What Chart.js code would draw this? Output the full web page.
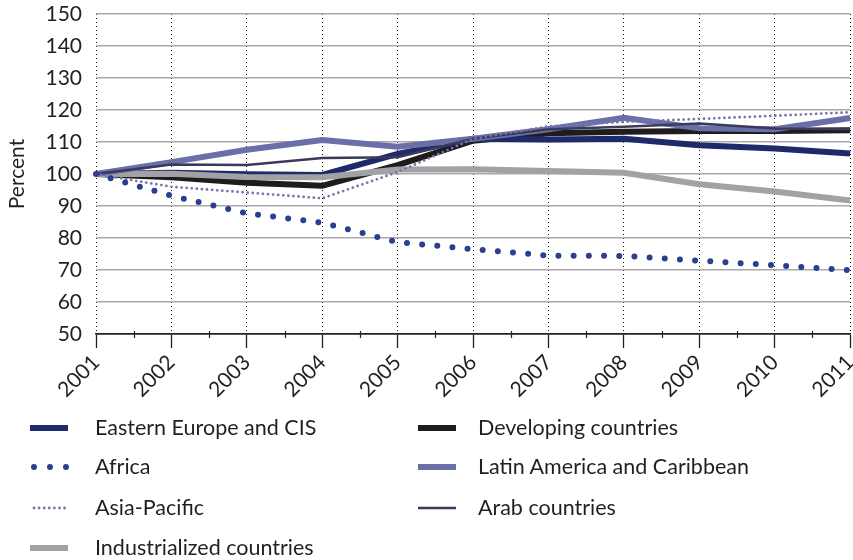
<!DOCTYPE html>
<html>
<head>
<meta charset="utf-8">
<script src="https://cdn.jsdelivr.net/npm/chart.js@4.4.0/dist/chart.umd.min.js"></script>
<style>
  html, body { margin: 0; padding: 0; background: #fff; overflow: hidden; width: 853px; height: 560px; }
  #wrap { position: absolute; left: 0; top: 0; width: 870px; height: 400px; }
  #legend { position: absolute; left: 0; top: 0; width: 853px; height: 560px; font-family: Lato, sans-serif; font-size: 21.5px; color: #231f20; pointer-events: none; }
  .sym { position: absolute; }
  .lbl { position: absolute; line-height: 26px; white-space: nowrap; }
</style>
</head>
<body>
<div id="wrap"><canvas id="chart"></canvas></div>
<div id="legend"></div>
<script>
// --- DATA ---
const years = ['2001', '2002', '2003', '2004', '2005', '2006', '2007', '2008', '2009', '2010', '2011'];
const eastEurope     = [100, 100.4, 99.9, 99.7, 106.3, 111.0, 110.8, 111.0, 109.0, 108.0, 106.4];
const africa         = [100, 93.2, 87.7, 84.8, 78.7, 76.5, 74.5, 74.4, 72.9, 71.5, 69.9];
const asiaPacific    = [100, 96.0, 94.2, 92.4, 100.6, 111.0, 114.9, 116.3, 117.2, 118.2, 119.3];
const industrialized = [100, 100.1, 99.1, 99.0, 101.4, 101.5, 100.9, 100.4, 96.8, 94.5, 91.7];
const developing     = [100, 99.0, 97.3, 96.3, 102.8, 110.4, 112.7, 113.2, 113.4, 113.4, 113.7];
const latinAmerica   = [100, 103.7, 107.6, 110.6, 108.5, 111.0, 114.0, 117.6, 114.3, 114.0, 117.5];
const arabCountries  = [100, 103.0, 102.8, 105.0, 105.2, 111.0, 114.0, 114.8, 115.8, 114.2, 114.0];
const yTicks = [50, 60, 70, 80, 90, 100, 110, 120, 130, 140, 150];

const FONT = 'Lato, sans-serif';
const TEXT = '#231f20';

// series styles; legend follows the reference's column layout
const series = [
  { label: 'Eastern Europe and CIS', data: eastEurope, color: '#1e2a6a', width: 6, dash: [], order: 6, col: 0, row: 0 },
  { label: 'Africa', data: africa, color: '#2b3e90', width: 6, dash: [0, 15.2], order: 1, col: 0, row: 1, legDash: [0, 16] },
  { label: 'Asia-Pacific', data: asiaPacific, color: '#7676a8', width: 2.8, dash: [0, 5.1], order: 2, col: 0, row: 2 },
  { label: 'Industrialized countries', data: industrialized, color: '#a2a2a6', width: 6, dash: [], order: 5, col: 0, row: 3 },
  { label: 'Developing countries', data: developing, color: '#201c1d', width: 6, dash: [], order: 7, col: 1, row: 0 },
  { label: 'Latin America and Caribbean', data: latinAmerica, color: '#6b6fa8', width: 6, dash: [], order: 4, col: 1, row: 1 },
  { label: 'Arab countries', data: arabCountries, color: '#3a3a5c', width: 2.5, dash: [], order: 3, col: 1, row: 2 }
];

const minorTicks = {
  id: 'minorTicks',
  afterDraw(chart) {
    const x = chart.scales.x, ctx = chart.ctx, y0 = chart.chartArea.bottom;
    ctx.save();
    ctx.strokeStyle = '#222';
    ctx.lineWidth = 1.2;
    for (let i = 0; i < years.length - 1; i++) {
      const px = Math.round((x.getPixelForTick(i) + x.getPixelForTick(i + 1)) / 2) + 0.5;
      ctx.beginPath();
      ctx.moveTo(px, y0 - 3);
      ctx.lineTo(px, y0 + 4);
      ctx.stroke();
    }
    ctx.restore();
  }
};

new Chart(document.getElementById('chart'), {
  type: 'line',
  data: {
    labels: years,
    datasets: series.map(s => ({
      label: s.label,
      data: s.data,
      borderColor: s.color,
      backgroundColor: s.color,
      borderWidth: s.width,
      borderDash: s.dash,
      borderCapStyle: s.dash.length ? 'round' : 'butt',
      borderJoinStyle: 'miter',
      pointRadius: 0,
      tension: 0,
      order: s.order
    }))
  },
  options: {
    responsive: true,
    maintainAspectRatio: false,
    animation: false,
    layout: { padding: { top: 14, left: 0, right: 0, bottom: 0 } },
    plugins: { legend: { display: false }, tooltip: { enabled: false } },
    scales: {
      x: {
        offset: false,
        afterFit: s => { s.height = 66; },
        grid: {
          color: '#111', lineWidth: 1,
          tickLength: 14, tickColor: '#222', tickWidth: 1.3, tickBorderDash: []
        },
        // in v4 border.dash dashes the grid lines (the axis line itself stays solid)
        border: { display: true, color: '#222', width: 1.5, dash: [1, 3] },
        ticks: {
          color: TEXT, font: { family: FONT, size: 21 },
          minRotation: 45, maxRotation: 45, padding: 2, autoSkip: false
        }
      },
      y: {
        min: 50, max: 150,
        afterFit: s => { s.width = 96; s.paddingTop = 0; s.paddingBottom = 0; },
        afterBuildTicks: s => { s.ticks = yTicks.map(v => ({ value: v })); },
        grid: {
          color: c => c.tick && c.tick.value === 50 ? '#222' : '#a9a9a9',
          lineWidth: 1.5, drawTicks: false
        },
        border: { display: false },
        ticks: { color: TEXT, font: { family: FONT, size: 21 }, padding: 14 },
        title: { display: true, text: 'Percent', color: TEXT, font: { family: FONT, size: 21 }, padding: { top: 5, bottom: 0 } }
      }
    }
  },
  plugins: [minorTicks]
});

// --- LEGEND ---
const legend = document.getElementById('legend');
const rowY = [428, 467, 508, 548];
const symX = [30, 418];
const txtX = [95, 478];
series.forEach(s => {
  const cy = rowY[s.row];
  const c = document.createElement('canvas');
  c.width = 44; c.height = 14;
  c.className = 'sym';
  c.style.left = (symX[s.col] - 2) + 'px';
  c.style.top = (cy - 7) + 'px';
  const g = c.getContext('2d');
  g.strokeStyle = s.color;
  g.lineWidth = s.width;
  const d = s.legDash || s.dash;
  g.setLineDash(d);
  g.lineCap = d.length ? 'round' : 'butt';
  g.beginPath();
  g.moveTo(d.length ? 6 : 2, 7);
  g.lineTo(40, 7);
  g.stroke();
  legend.appendChild(c);
  const t = document.createElement('div');
  t.className = 'lbl';
  t.textContent = s.label;
  t.style.left = txtX[s.col] + 'px';
  t.style.top = (cy - 14) + 'px';
  legend.appendChild(t);
});
</script>
</body>
</html>
